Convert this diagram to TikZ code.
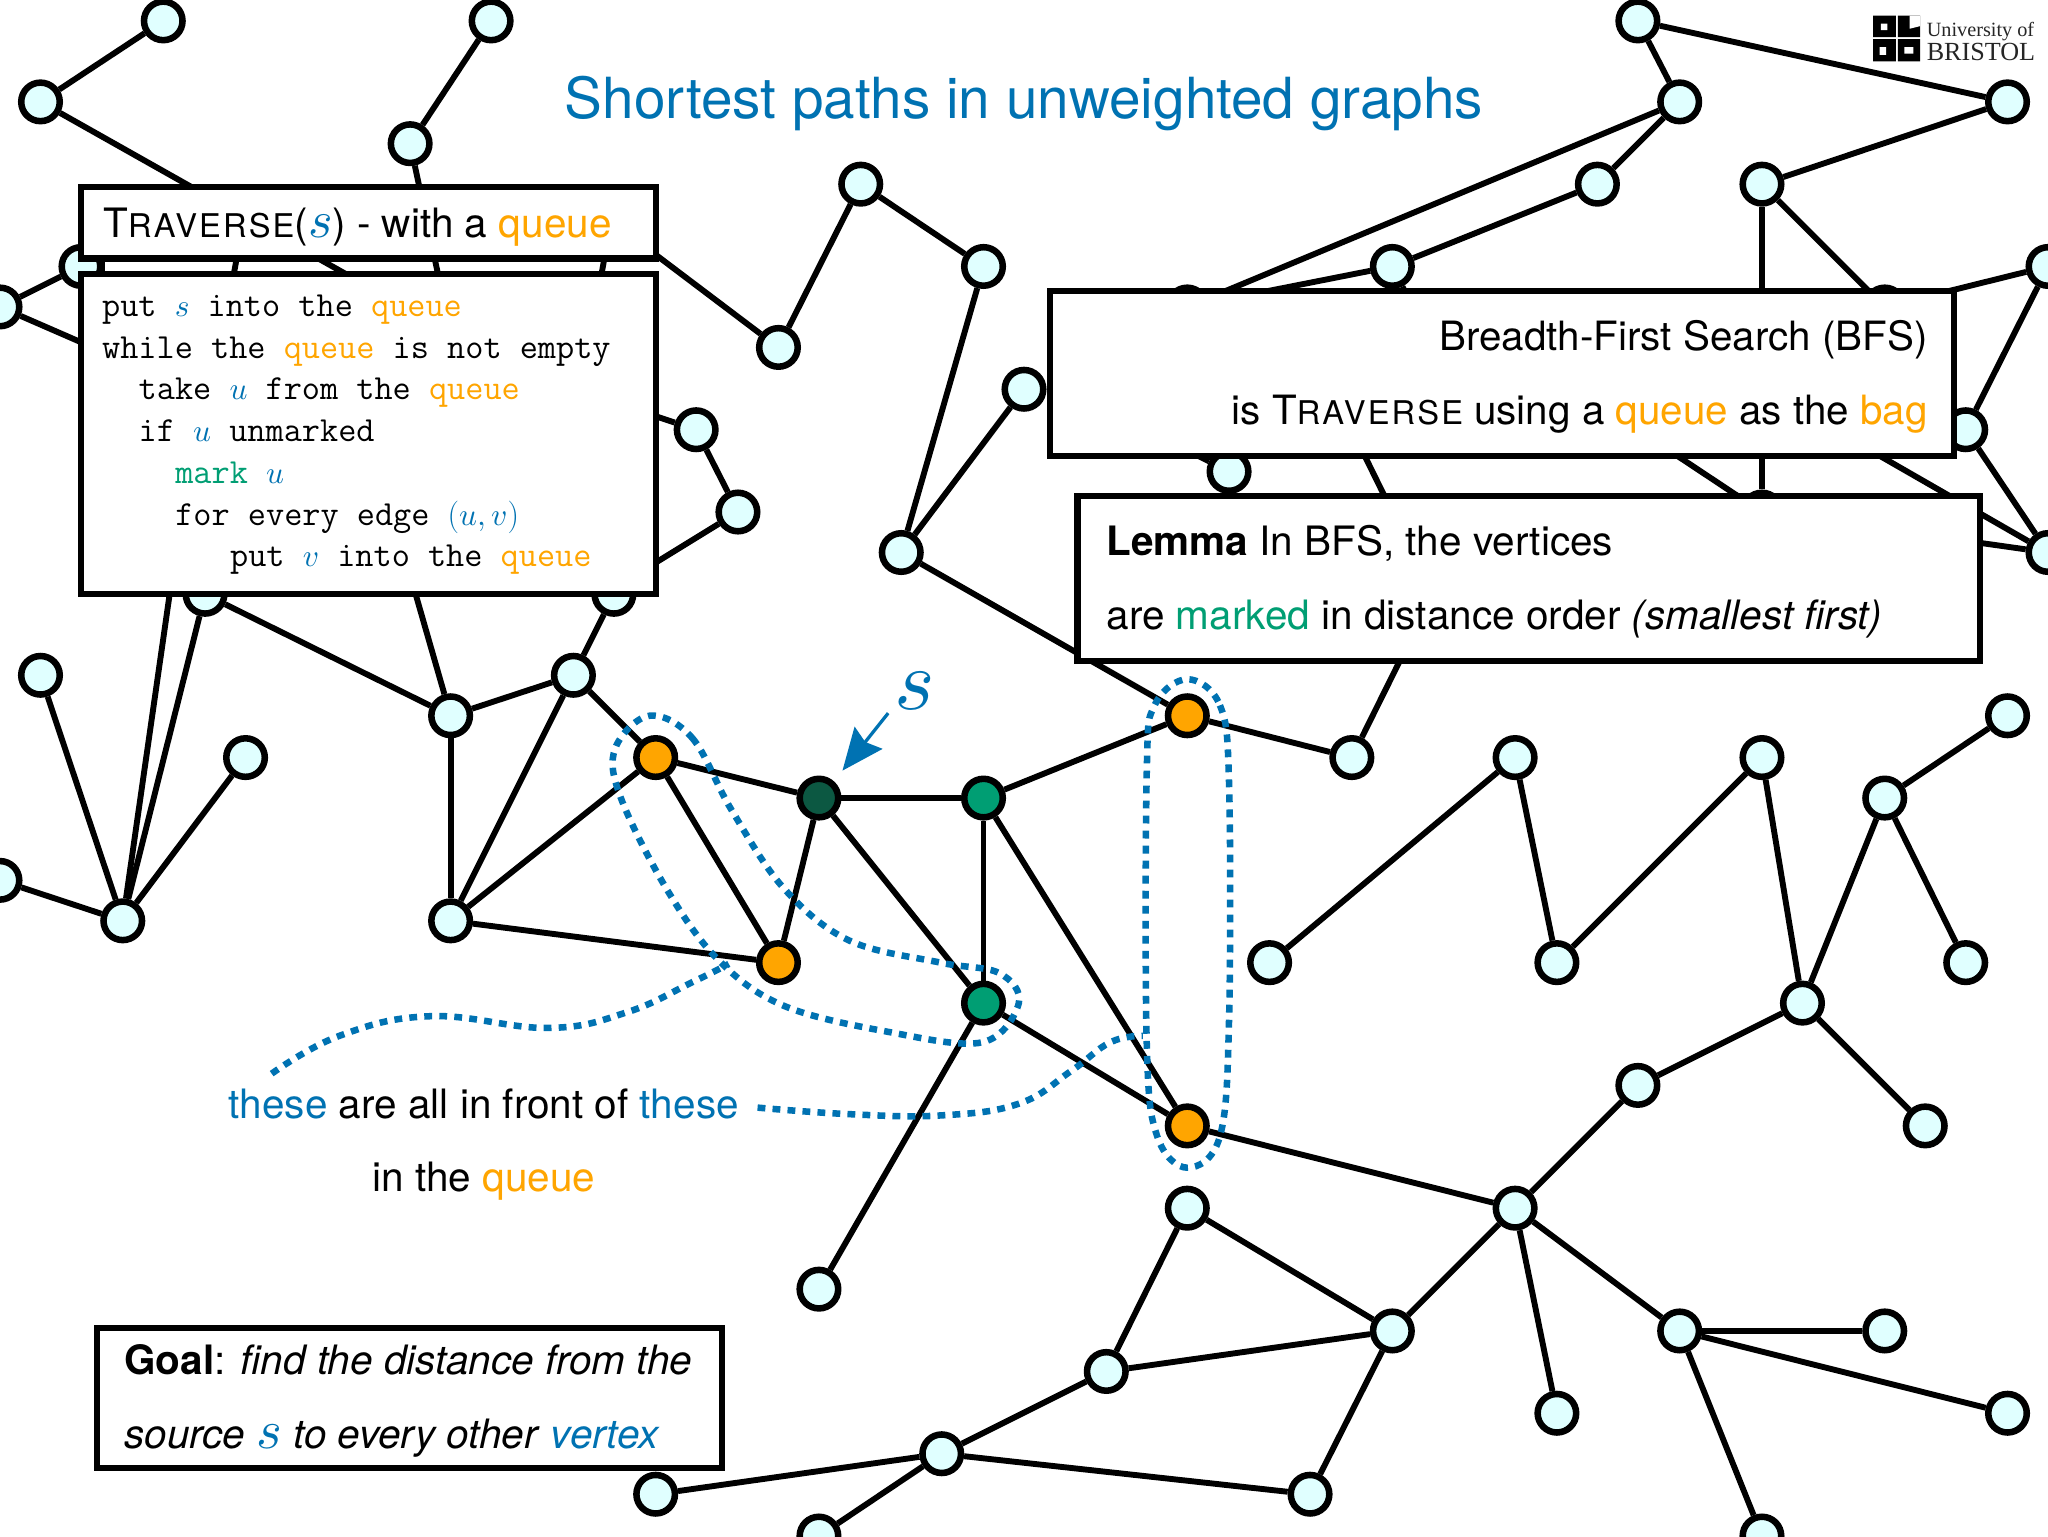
\documentclass[tikz,border=0pt]{standalone}
\usepackage{fontspec}
\setsansfont{TeX Gyre Heros}
\renewcommand{\familydefault}{\sfdefault}
\newfontfamily\logofont{Liberation Serif}
\newfontfamily\capsfont[LetterSpace=6.5]{TeX Gyre Heros}
\DeclareFontFamily{OML}{xcm}{\skewchar\font'177 }
\DeclareFontShape{OML}{xcm}{m}{it}{<->cmmi10}{}
\DeclareSymbolFont{letters}{OML}{xcm}{m}{it}
\usetikzlibrary{backgrounds,arrows.meta}
\definecolor{myblue}{RGB}{0,114,178}
\definecolor{myorange}{RGB}{255,165,0}
\definecolor{mygreen}{RGB}{0,158,115}
\definecolor{mydark}{RGB}{12,88,66}
\definecolor{mycyan}{RGB}{224,255,255}
\newcommand{\que}{\textcolor{myorange}{queue}}
\newcommand{\blu}[1]{\textcolor{myblue}{#1}}
\newcommand{\trav}{T{\capsfont\fontsize{25}{25}\selectfont RAVERSE}}
\newcommand{\mvar}[1]{{\fontsize{24}{24}\selectfont\textcolor{myblue}{$#1$}}}
\newcommand{\bigs}[1]{{\fontsize{#1}{#1}\selectfont\textcolor{myblue}{$s$}}}
\tikzset{
  vtx/.style={circle,draw=black,line width=5pt,fill=mycyan,minimum size=29.5pt,inner sep=0pt},
  orangevtx/.style={vtx,fill=myorange},
  greenvtx/.style={vtx,fill=mygreen},
  darkvtx/.style={vtx,fill=mydark},
  edge/.style={draw=black,line width=4.5pt},
  panel/.style={draw=black,line width=4.8pt,fill=white,line join=miter},
  txt/.style={anchor=base west,inner sep=0pt,font=\fontsize{31}{31}\selectfont},
  txtr/.style={txt,anchor=base east,font=\fontsize{30.9}{30.9}\selectfont},
  algo/.style={anchor=base west,inner sep=0pt,font=\fontsize{27}{27}\selectfont\ttfamily},
  loopdash/.style={draw=myblue,line width=5pt,dash pattern=on 6pt off 5.5pt},
}
\begin{document}
\begin{tikzpicture}[x=1pt,y=-1pt]
\clip (0,0) rectangle (1568,1176);
% hidden joints behind the panels
\foreach \x/\y in {345/255,282/329,157/266,78/150,78/280,188/160,170/260,466/180,455/240,
  62/262,502/195,500/318,500/432,1097/266,1035/329,1097/455,878/329,1254/329,1380/315}
  \coordinate (v\x-\y) at (\x,\y);
% vertices
\foreach \x/\y in {125/16,31/78,376/16,314/110,659/141,753/204,596/266,784/298,690/423,
  62/204,0/235,533/329,565/392,157/455,470/455,31/517,188/580,0/674,94/705,345/548,439/517,345/705,
  627/987,1035/580,1160/580,972/737,1192/737,1349/580,1537/548,1443/611,1505/737,1380/768,1254/831,
  1474/862,1160/925,909/925,1066/1019,847/1050,721/1113,502/1144,1003/1144,627/1176,1286/1019,
  1443/1019,1537/1082,1192/1082,1349/1176,1254/16,1286/78,1537/78,1223/141,1349/141,1066/204,
  909/235,1443/235,1568/204,1505/329,941/361,1349/392,1568/423}
  \node[vtx] (v\x-\y) at (\x,\y) {};
\foreach \x/\y in {502/580,596/737,909/548,909/862}
  \node[orangevtx] (v\x-\y) at (\x,\y) {};
\foreach \x/\y in {753/611,753/768}
  \node[greenvtx] (v\x-\y) at (\x,\y) {};
\node[darkvtx] (v627-611) at (627,611) {};
% edges
\begin{scope}[on background layer]
\fill[white] (0,0) rectangle (1568,1176);
\foreach \a/\b in {125-16/31-78,31-78/345-255,376-16/314-110,314-110/345-255,659-141/753-204,659-141/596-266,
  596-266/502-195,753-204/690-423,784-298/690-423,690-423/909-548,0-235/62-204,0-235/62-262,
  533-329/565-392,533-329/500-318,565-392/500-432,78-150/78-280,188-160/170-260,466-180/455-240,
  94-705/31-517,94-705/188-580,94-705/0-674,94-705/157-266,94-705/157-455,157-455/345-548,282-329/345-548,
  470-455/439-517,439-517/345-548,439-517/502-580,439-517/345-705,345-548/345-705,345-705/502-580,
  345-705/596-737,502-580/596-737,502-580/627-611,627-611/596-737,627-611/753-611,627-611/753-768,
  753-611/753-768,753-611/909-548,753-611/909-862,753-768/909-862,753-768/627-987,909-548/1035-580,
  1035-580/1097-455,1035-329/1097-455,909-862/1160-925,1160-925/1254-831,1254-831/1380-768,1380-768/1474-862,
  1380-768/1349-580,1380-768/1443-611,1443-611/1537-548,1443-611/1505-737,1349-580/1192-737,1192-737/1160-580,
  1160-580/972-737,1160-925/1066-1019,1160-925/1192-1082,1160-925/1286-1019,909-925/1066-1019,909-925/847-1050,
  847-1050/1066-1019,847-1050/721-1113,1066-1019/1003-1144,721-1113/1003-1144,721-1113/502-1144,721-1113/627-1176,
  1286-1019/1443-1019,1286-1019/1537-1082,1286-1019/1349-1176,1254-16/1286-78,1254-16/1537-78,1537-78/1349-141,
  1286-78/1223-141,1286-78/909-235,1223-141/1066-204,1066-204/909-235,1066-204/1097-266,1349-141/1349-392,
  1349-141/1443-235,1568-204/1443-235,1568-204/1505-329,1505-329/1568-423,941-361/878-329,1254-329/1349-392,
  1380-315/1568-423,1349-392/1568-423}
  \draw[edge] (v\a) -- (v\b);
\end{scope}
% dashed loops and wavy pointers
\draw[loopdash] plot[smooth cycle,tension=0.6] coordinates {(497,548)(530,565)(560,620)(600,680)(650,720)(720,737)(765,745)(780,768)(752,798)(680,790)(600,770)(550,735)(510,680)(475,610)(471,573)};
\draw[loopdash] plot[smooth cycle,tension=0.6] coordinates {(909,520)(934,540)(941,600)(941,780)(934,870)(909,894)(886,870)(878,800)(878,590)(884,540)};
\draw[loopdash] plot[smooth,tension=0.7] coordinates {(208,822)(260,793)(330,778)(420,787)(480,775)(530,752)(558,738)};
\draw[loopdash] plot[smooth,tension=0.7] coordinates {(580,848)(650,853)(720,854)(780,845)(820,820)(850,798)(875,793)};
% source pointer
\coordinate (arrowtail) at (680,546);
\coordinate (arrowhead) at (645,590);
\draw[draw=myblue,line width=2.5pt,-{Stealth[length=32pt,width=27pt,inset=4pt]}] (arrowtail) -- (arrowhead);
\node[anchor=base,inner sep=0pt,font=\fontsize{66}{66}\selectfont] (slabel) at (700,543) {\bigs{66}};
% title
\node[anchor=base,inner sep=0pt,text=myblue,font=\fontsize{43.4}{43.4}\selectfont] (title) at (784,91) {Shortest paths in unweighted graphs};
% panels
\draw[panel] (62,143) rectangle (502,198);
\node[txt] (travhead) at (79,182) {\trav(\bigs{40}) - with a \que};
\draw[panel] (62,210) rectangle (502,455);
\node[algo] (l1) at (78,242.5) {put \mvar{s} into the \que};
\node[algo] (l2) at (78,274.5) {while the \que{} is not empty};
\node[algo] (l3) at (106,306) {take \mvar{u} from the \que};
\node[algo] (l4) at (106,338) {if \mvar{u} unmarked};
\node[algo] (l5) at (134,370) {\textcolor{mygreen}{mark} \mvar{u}};
\node[algo] (l6) at (134,402) {for every edge \mvar{(u,v)}};
\node[algo] (l7) at (176,434) {put \mvar{v} into the \que};
\draw[panel] (804,223) rectangle (1496,349);
\node[txtr] (bfs1) at (1476,268) {Breadth-First Search (BFS)};
\node[txtr] (bfs2) at (1476,325) {is \trav{} using a \que{} as the \textcolor{myorange}{bag}};
\draw[panel] (825,380) rectangle (1516,506);
\node[txt] (lem1) at (847,425) {\textbf{Lemma} In BFS, the vertices};
\node[txt] (lem2) at (847,482) {are \textcolor{mygreen}{marked} in distance order \textit{(smallest first)}};
\draw[panel] (74,1017) rectangle (553,1124);
\node[txt] (goal1) at (95,1052) {\textbf{Goal}: \textit{find the distance from the}};
\node[txt] (goal2) at (95,1109) {\textit{source} \bigs{42} \textit{to every other} \textcolor{myblue}{\textit{vertex}}};
\node[txt] (these) at (175,856) {\blu{these} are all in front of \blu{these}};
\node[txt] (inq) at (285,912) {in the \que};
% logo
\fill[black] (1434,12) rectangle (1451.5,28.5) (1453,12) rectangle (1470,28.5) (1434,30) rectangle (1451.5,47) (1453,30) rectangle (1470,47);
\fill[white] (1440,18) rectangle (1445,23) (1439,36) rectangle (1444,42) (1458,36) rectangle (1465,41) (1462,12) -- (1470,12) -- (1470,20) -- (1462,22) -- cycle;
\node[anchor=base west,inner sep=0pt,text=black!85,font=\logofont\fontsize{15.5}{15.5}\selectfont] (uni) at (1475,28) {University of};
\node[anchor=base west,inner sep=0pt,text=black!85,font=\logofont\fontsize{20}{20}\selectfont] (bri) at (1475,46) {BRISTOL};
\end{tikzpicture}
\end{document}
